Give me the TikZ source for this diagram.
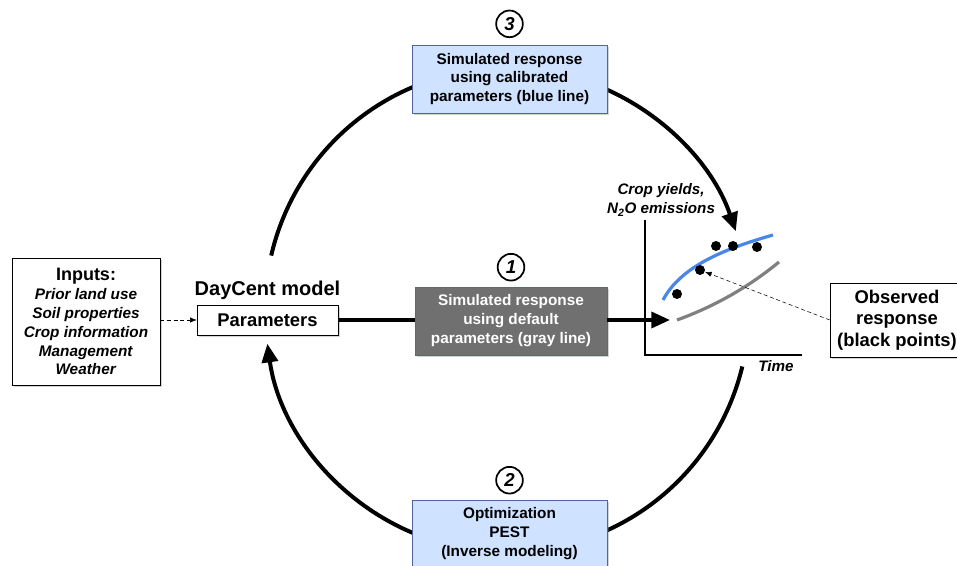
\documentclass[tikz,border=0pt]{standalone}
\usepackage{fontspec}
\setmainfont{Liberation Sans}
\usetikzlibrary{positioning}
\usetikzlibrary{arrows.meta}
\usetikzlibrary{shadows}
\definecolor{mblue}{RGB}{207, 226, 255}
\definecolor{mframe}{RGB}{84, 98, 170}
\definecolor{mgray}{RGB}{112, 112, 112}
\definecolor{mcurve}{RGB}{74, 134, 232}
\tikzset{box/.style = {draw, fill=white, align=center, inner sep=2pt, drop shadow={shadow xshift=1.5pt, shadow yshift=-1.5pt, opacity=0.35}, font=\bfseries\fontsize{11.5}{14.2}\selectfont}}
\tikzset{simbox/.style = {box, draw=mframe, minimum width=146pt, minimum height=51pt}}
\tikzset{numcirc/.style = {draw, line width=1.3pt, circle, inner sep=0, minimum size=20pt, font=\bfseries\itshape\fontsize{14}{14}\selectfont}}
\tikzset{circ/.style = {fill, circle, inner sep=0, minimum size=7.5pt}}
\tikzset{ring/.style = {line width=3pt}}
\tikzset{flow/.style = {line width=2.6pt}}
\tikzset{dasharrow/.style = {densely dashed, -{Latex[length=5pt, width=4pt]}}}
\tikzset{bigtip/.style = {-{Triangle[length=14pt, width=12pt]}}}
\tikzset{plotlabel/.style = {align=center, inner sep=1pt, font=\bfseries\itshape\fontsize{11.4}{14}\selectfont}}

\begin{document}
\begin{tikzpicture}[x=0.75pt, y=-0.75pt]
    \useasboundingbox (0, 0) rectangle (957, 566);
    \coordinate (ring) at (507, 310);

    % calibration loop
    \draw [ring] ([shift={(-110:242)}]ring) arc [start angle=-110, end angle=-167, radius=242];
    \draw [ring, bigtip] ([shift={(-70:242)}]ring) arc [start angle=-70, end angle=-19, radius=242];
    \draw [ring] ([shift={(70:242)}]ring) arc [start angle=70, end angle=13.5, radius=242];
    \draw [ring, bigtip] ([shift={(110:242)}]ring) arc [start angle=110, end angle=172, radius=242];

    \node [box, minimum width=111pt, minimum height=95.25pt] (inputs) at (86, 321.5)
      {{\fontsize{13.5}{14.2}\selectfont Inputs:}\\\textit{Prior land use}\\\textit{Soil properties}\\\textit{Crop information}\\\textit{Management}\\\textit{Weather}};
    \node [box, minimum width=105.75pt, minimum height=22.5pt, font=\bfseries\fontsize{13.8}{16}\selectfont] (params) at (267.5, 320) {Parameters};
    \node [above=0pt of params, font=\bfseries\fontsize{15}{18}\selectfont] (daycent) {DayCent model};

    \node [simbox, fill=mgray, text=white, minimum width=144pt] (default) at (511, 321)
      {Simulated response\\using default\\parameters (gray line)};
    \node [simbox, fill=mblue] (calib) at (509.5, 79)
      {Simulated response\\using calibrated\\parameters (blue line)};
    \node [simbox, fill=mblue] (optim) at (509.5, 534)
      {Optimization\\PEST\\(Inverse modeling)};
    \node [numcirc, above=4pt of default] (n1) {1};
    \node [numcirc, above=4pt of optim] (n2) {2};
    \node [numcirc, above=5pt of calib] (n3) {3};

    % response plot
    \coordinate (origin) at (645, 355);
    \coordinate (plotin) at (670, 320);
    \draw [line width=1pt] (645, 220) -- (origin) -- (802, 355);
    \node [plotlabel] (ylabel) at (661, 200) {Crop yields,\\N\textsubscript{2}O emissions};
    \node [plotlabel] (xlabel) at (776, 366) {Time};
    \draw [mcurve, line width=2.4pt] (663, 300) .. controls (680, 268) and (720, 250) .. (773, 235);
    \draw [gray, line width=2.4pt] (677, 320) .. controls (710, 308) and (745, 290) .. (779, 262);
    \foreach \x/\y [count=\i] in {677/294, 700/270, 716/246, 733/246, 757/247}
      \node [circ] (obs\i) at (\x, \y) {};
    \node [box, minimum width=100.5pt, minimum height=55.5pt, font=\bfseries\fontsize{13.8}{16.3}\selectfont] (observed) at (897, 320)
      {Observed\\response\\(black points)};

    \draw [dasharrow] (observed.west) -- (obs2);
    \draw [dasharrow] (inputs.east |- params.west) -- (params.west);
    \draw [flow] (params.east) -- (default.west |- params.east);
    \draw [flow, bigtip] (default.east |- plotin) -- (plotin);
  \end{tikzpicture}
\end{document}
